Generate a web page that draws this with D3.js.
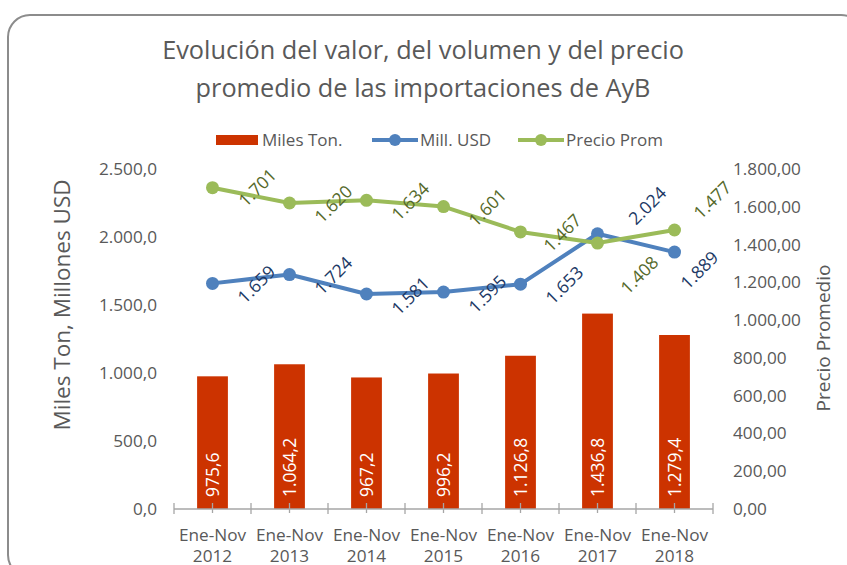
<!DOCTYPE html>
<html>
<head>
<meta charset="utf-8">
<script src="https://cdn.jsdelivr.net/npm/d3@7"></script>
<style>
  body { margin: 0; background: #fff; }
  svg text { font-family: "Open Sans", "Noto Sans", sans-serif; }
</style>
</head>
<body>
<svg id="chart" width="847" height="565"></svg>
<script>
// Data
const periods = ["2012", "2013", "2014", "2015", "2016", "2017", "2018"];
const milesTon = [975.6, 1064.2, 967.2, 996.2, 1126.8, 1436.8, 1279.4];
const millUSD = [1659, 1724, 1581, 1595, 1653, 2024, 1889];
const precioProm = [1701, 1620, 1634, 1601, 1467, 1408, 1477];
const leftTicks = [0, 500, 1000, 1500, 2000, 2500];
const rightTicks = [0, 200, 400, 600, 800, 1000, 1200, 1400, 1600, 1800];

// label nudges (Excel had a few moved by hand)
const usdShift = [[44, 1], [44, 1], [44, 2], [44, 2], [44, 1], [50, -28], [25, 18]];
const precioShift = [[45, 0], [44, 1], [44, 1], [44, 1], [42, 1], [42, 32], [38, -30]];

const colors = {
  bar: "#cc3300",
  usd: "#4f81bd",
  usdLabel: "#203864",
  precio: "#9bbb59",
  precioLabel: "#55692a",
  text: "#595959",
  axis: "#a6a6a6"
};

const es = d3.formatLocale({ decimal: ",", thousands: ".", grouping: [3], currency: ["", ""] });
const f1 = es.format(",.1f");
const f2 = es.format(",.2f");
const f0 = es.format(",.0f");

const svg = d3.select("#chart");

// chart frame
svg.append("rect")
  .attr("x", 8).attr("y", 15)
  .attr("width", 855).attr("height", 562)
  .attr("rx", 22).attr("ry", 22)
  .attr("fill", "none")
  .attr("stroke", "#8c8c8c")
  .attr("stroke-width", 2);

const plot = { left: 174, right: 713, top: 169, bottom: 509 };

const xEdge = d3.scaleBand().domain(periods).range([plot.left, plot.right]);
const yL = d3.scaleLinear().domain([0, 2500]).range([plot.bottom, plot.top]);
const yR = d3.scaleLinear().domain([0, 1800]).range([plot.bottom, plot.top]);
const cx = d => xEdge(d) + xEdge.bandwidth() / 2;
const barW = xEdge.bandwidth() * 0.4;

// title
const title = svg.append("text")
  .attr("text-anchor", "middle")
  .attr("fill", colors.text)
  .attr("font-size", 25.3);
title.append("tspan").attr("x", 423).attr("y", 59).text("Evolución del valor, del volumen y del precio");
title.append("tspan").attr("x", 423).attr("y", 97).text("promedio de las importaciones de AyB");

// legend
const legend = svg.append("g").attr("font-size", 17).attr("fill", colors.text);
legend.append("rect").attr("x", 216).attr("y", 135).attr("width", 42).attr("height", 10).attr("fill", colors.bar);
legend.append("text").attr("x", 262).attr("y", 146).text("Miles Ton.");
[[372, colors.usd, "Mill. USD"], [518, colors.precio, "Precio Prom"]].forEach(([lx, c, t]) => {
  legend.append("line").attr("x1", lx).attr("x2", lx + 46).attr("y1", 140).attr("y2", 140)
    .attr("stroke", c).attr("stroke-width", 4);
  legend.append("circle").attr("cx", lx + 23).attr("cy", 140).attr("r", 6).attr("fill", c);
  legend.append("text").attr("x", lx + 48).attr("y", 146).text(t);
});

// left axis
const gl = svg.append("g")
  .attr("transform", `translate(${plot.left - 17},0)`)
  .call(d3.axisLeft(yL).tickValues(leftTicks).tickFormat(f1).tickSize(0).tickPadding(0));
gl.select(".domain").remove();
gl.selectAll("text").attr("fill", colors.text).attr("font-size", 17.2).attr("font-family", null);

// right axis
const gr = svg.append("g")
  .attr("transform", `translate(${plot.right + 20},0)`)
  .call(d3.axisRight(yR).tickValues(rightTicks).tickFormat(f2).tickSize(0).tickPadding(0));
gr.select(".domain").remove();
gr.selectAll("text").attr("fill", colors.text).attr("font-size", 17.2).attr("font-family", null);

// axis titles
svg.append("text")
  .attr("transform", `translate(70,305) rotate(-90)`)
  .attr("text-anchor", "middle")
  .attr("fill", colors.text)
  .attr("font-size", 22.5)
  .text("Miles Ton, Millones USD");
svg.append("text")
  .attr("transform", `translate(830,338) rotate(-90)`)
  .attr("text-anchor", "middle")
  .attr("fill", colors.text)
  .attr("font-size", 19)
  .text("Precio Promedio");

// bars
svg.append("g").selectAll("rect")
  .data(periods)
  .join("rect")
  .attr("x", d => cx(d) - barW / 2)
  .attr("width", barW)
  .attr("y", (d, i) => yL(milesTon[i]))
  .attr("height", (d, i) => yL(0) - yL(milesTon[i]))
  .attr("fill", colors.bar);

svg.append("g").selectAll("text")
  .data(periods)
  .join("text")
  .attr("transform", d => `translate(${cx(d)},${plot.bottom - 12}) rotate(-90)`)
  .attr("dy", "0.36em")
  .attr("fill", "#fff")
  .attr("font-size", 17.5)
  .text((d, i) => f1(milesTon[i]));

// x axis
const gx = svg.append("g");
gx.append("line")
  .attr("x1", plot.left).attr("x2", plot.right)
  .attr("y1", plot.bottom).attr("y2", plot.bottom)
  .attr("stroke", colors.axis).attr("stroke-width", 1.3);
const edges = periods.map(d => xEdge(d)).concat([plot.right]);
gx.selectAll("line.edge").data(edges).join("line").attr("class", "edge")
  .attr("x1", d => d).attr("x2", d => d)
  .attr("y1", plot.bottom - 6).attr("y2", plot.bottom + 5)
  .attr("stroke", colors.axis).attr("stroke-width", 1.3);
gx.selectAll("line.mid").data(periods).join("line").attr("class", "mid")
  .attr("x1", d => cx(d)).attr("x2", d => cx(d))
  .attr("y1", plot.bottom - 6).attr("y2", plot.bottom + 4)
  .attr("stroke", colors.axis).attr("stroke-width", 1.3);
const xl = gx.selectAll("text.cat").data(periods).join("text").attr("class", "cat")
  .attr("text-anchor", "middle")
  .attr("fill", colors.text)
  .attr("font-size", 17.2);
xl.append("tspan").attr("x", d => cx(d)).attr("y", 540.5).text("Ene-Nov");
xl.append("tspan").attr("x", d => cx(d)).attr("y", 562).text(d => d);

// lines
function series(values, y, color, labelColor, shift, fmt) {
  const g = svg.append("g");
  const line = d3.line().x((d, i) => cx(periods[i])).y(d => y(d));
  g.append("path")
    .datum(values)
    .attr("d", line)
    .attr("fill", "none")
    .attr("stroke", color)
    .attr("stroke-width", 4)
    .attr("stroke-linejoin", "round");
  g.selectAll("circle").data(values).join("circle")
    .attr("cx", (d, i) => cx(periods[i]))
    .attr("cy", d => y(d))
    .attr("r", 6.5)
    .attr("fill", color);
  g.selectAll("text").data(values).join("text")
    .attr("transform", (d, i) => `translate(${cx(periods[i]) + shift[i][0]},${y(d) + shift[i][1]}) rotate(-45)`)
    .attr("text-anchor", "middle")
    .attr("dy", "0.35em")
    .attr("fill", labelColor)
    .attr("font-size", 17.5)
    .text(d => fmt(d));
}
series(millUSD, yL, colors.usd, colors.usdLabel, usdShift, f0);
series(precioProm, yR, colors.precio, colors.precioLabel, precioShift, f0);
</script>
</body>
</html>
